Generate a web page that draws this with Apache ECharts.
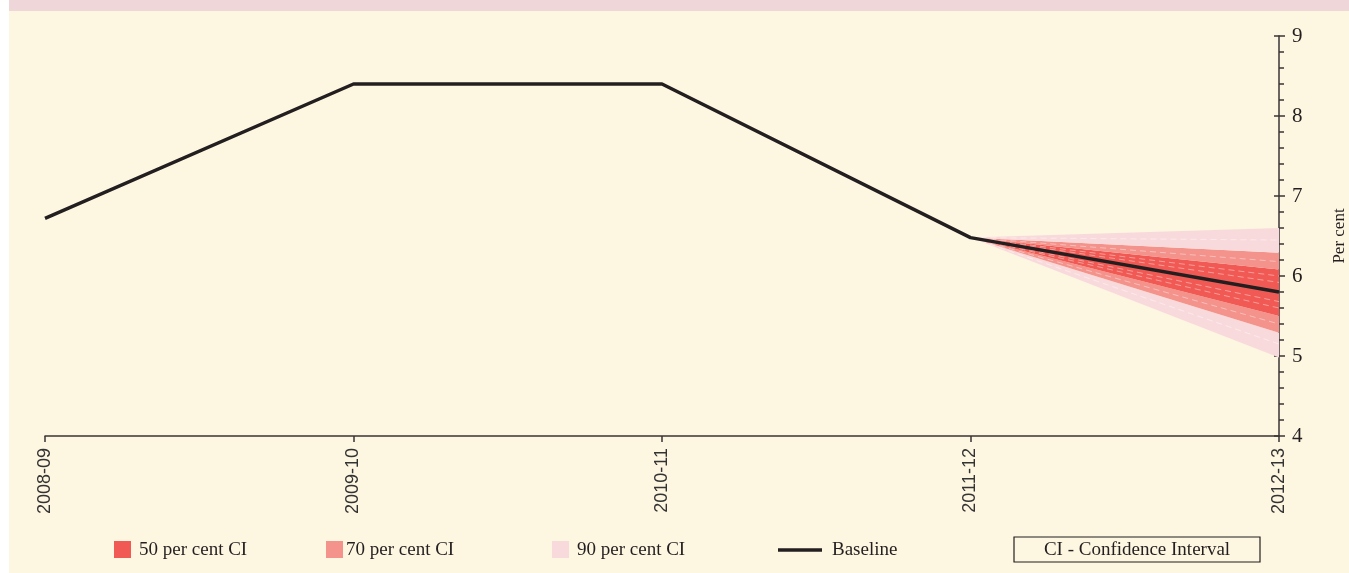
<!DOCTYPE html>
<html>
<head>
<meta charset="utf-8">
<script src="https://cdn.jsdelivr.net/npm/echarts@6/dist/echarts.min.js"></script>
<style>
    html, body { margin: 0; padding: 0; background: #fff; overflow: hidden; }
    #main {
        width: 1349px;
        height: 573px;
        background:
            linear-gradient(#efd6d8, #efd6d8) 9px 0 / 1340px 11px no-repeat,
            linear-gradient(#fdf6e1, #fdf6e1) 9px 11px / 1340px 562px no-repeat,
            #fff;
    }
</style>
</head>
<body>
<div id="main"></div>
<script>
/* 增长预测扇形图 */

// 年份
var years = ['2008-09', '2009-10', '2010-11', '2011-12', '2012-13'];
// 基准线
var baseline = [6.72, 8.4, 8.4, 6.48, 5.8];
// 置信区间上下限 ('-' 表示无数据)
var ci90Low = ['-', '-', '-', 6.48, 4.98];
var ci70Low = ['-', '-', '-', 6.48, 5.29];
var ci50Low = ['-', '-', '-', 6.48, 5.5];
var ci50High = ['-', '-', '-', 6.48, 6.08];
var ci70High = ['-', '-', '-', 6.48, 6.29];
var ci90High = ['-', '-', '-', 6.48, 6.6];
// 扇形内的分位虚线
var quantileLines = [
    ['-', '-', '-', 6.48, 6.45],
    ['-', '-', '-', 6.48, 6.18],
    ['-', '-', '-', 6.48, 6.0],
    ['-', '-', '-', 6.48, 5.92],
    ['-', '-', '-', 6.48, 5.68],
    ['-', '-', '-', 6.48, 5.6],
    ['-', '-', '-', 6.48, 5.4],
    ['-', '-', '-', 6.48, 5.15]
];

var c50 = '#f15a54';
var c70 = '#f4928c';
var c90 = '#f9dadc';
var axisColor = '#3a3536';
var serif = '"Liberation Serif", "DejaVu Serif", serif';

// 求两条边界之差，用于堆叠面积
function diff(hi, lo) {
    return hi.map(function (v, i) {
        return (v === '-' || lo[i] === '-') ? '-' : +(v - lo[i]).toFixed(4);
    });
}

function band(name, data, color) {
    return {
        name: name,
        type: 'line',
        stack: 'fan',
        data: data,
        showSymbol: false,
        silent: true,
        lineStyle: { width: 0 },
        areaStyle: { color: color, opacity: 1 },
        z: 2
    };
}

var series = [
    {
        name: 'base',
        type: 'line',
        stack: 'fan',
        data: ci90Low,
        showSymbol: false,
        silent: true,
        lineStyle: { width: 0 },
        z: 2
    },
    band('90 low', diff(ci70Low, ci90Low), c90),
    band('70 low', diff(ci50Low, ci70Low), c70),
    band('50', diff(ci50High, ci50Low), c50),
    band('70 high', diff(ci70High, ci50High), c70),
    band('90 high', diff(ci90High, ci70High), c90)
];

for (var i = 0; i < quantileLines.length; i++) {
    series.push({
        type: 'line',
        data: quantileLines[i],
        showSymbol: false,
        silent: true,
        lineStyle: { width: 1, type: [6, 4], color: 'rgba(255,255,255,0.4)' },
        z: 3
    });
}

series.push({
    name: 'Baseline',
    type: 'line',
    data: baseline,
    showSymbol: false,
    lineStyle: { width: 3.5, color: '#231f20' },
    z: 5
});

var legendItems = [
    { x: 114, color: c50, text: '50 per cent CI', tx: 139 },
    { x: 326, color: c70, text: '70 per cent CI', tx: 346 },
    { x: 552, color: c90, text: '90 per cent CI', tx: 577 }
];

var legendFont = '19px ' + serif;
var graphics = [];
legendItems.forEach(function (it) {
    graphics.push({
        type: 'rect',
        shape: { x: it.x, y: 541, width: 17, height: 17 },
        style: { fill: it.color }
    });
    graphics.push({
        type: 'text',
        x: it.tx, y: 550,
        style: { text: it.text, font: legendFont, fill: '#231f20', verticalAlign: 'middle' }
    });
});
graphics.push({
    type: 'line',
    shape: { x1: 778, y1: 550, x2: 822, y2: 550 },
    style: { stroke: '#231f20', lineWidth: 3.5 }
});
graphics.push({
    type: 'text',
    x: 832, y: 550,
    style: { text: 'Baseline', font: legendFont, fill: '#231f20', verticalAlign: 'middle' }
});
graphics.push({
    type: 'rect',
    shape: { x: 1014, y: 537, width: 246, height: 25 },
    style: { fill: 'none', stroke: '#231f20', lineWidth: 1.2 }
});
graphics.push({
    type: 'text',
    x: 1137, y: 550,
    style: { text: 'CI - Confidence Interval', font: legendFont, fill: '#231f20', align: 'center', verticalAlign: 'middle' }
});

var option = {
    animation: false,
    backgroundColor: 'transparent',
    grid: { left: 45, right: 70, top: 36, bottom: 137, outerBoundsMode: 'none' },
    xAxis: {
        type: 'category',
        data: years,
        boundaryGap: false,
        axisLine: { lineStyle: { color: axisColor, width: 1.5 } },
        axisTick: { length: 6, lineStyle: { color: axisColor, width: 1.5 } },
        axisLabel: {
            rotate: 90,
            margin: 12,
            fontSize: 18,
            color: '#333',
            fontFamily: '"Liberation Sans", Arial, sans-serif'
        },
        splitLine: { show: false }
    },
    yAxis: [
        {
            type: 'value',
            position: 'right',
            min: 4,
            max: 9,
            interval: 1,
            name: 'Per cent',
            nameLocation: 'middle',
            nameRotate: 90,
            nameGap: 52,
            nameTextStyle: { fontSize: 17, fontFamily: serif, color: '#231f20' },
            axisLine: { show: true, lineStyle: { color: axisColor, width: 1.5 } },
            axisTick: { show: true, length: 6, lineStyle: { color: axisColor, width: 1.5 } },
            minorTick: { show: true, splitNumber: 5, length: 5, lineStyle: { color: axisColor, width: 1.5 } },
            axisLabel: { margin: 13, fontSize: 21, fontFamily: serif, color: '#231f20' },
            splitLine: { show: false }
        },
        {
            // 主刻度向内的短线
            type: 'value',
            position: 'right',
            min: 4,
            max: 9,
            interval: 1,
            axisLine: { show: false },
            axisTick: { show: true, inside: true, length: 5, lineStyle: { color: axisColor, width: 1.5 } },
            axisLabel: { show: false },
            splitLine: { show: false }
        }
    ],
    graphic: graphics,
    series: series
};

var myChart = echarts.init(document.getElementById('main'));
myChart.setOption(option);
</script>
</body>
</html>
